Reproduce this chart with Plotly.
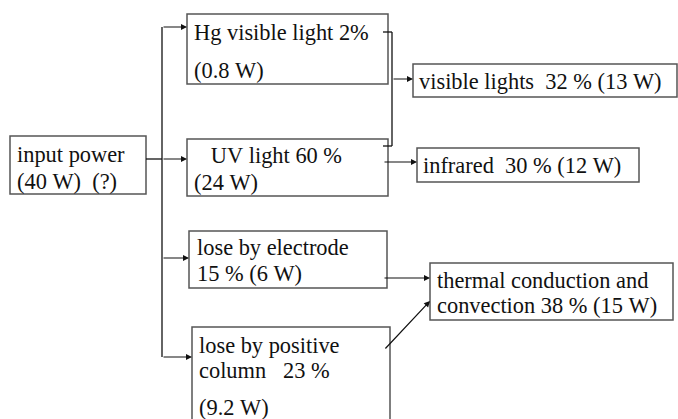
import plotly.graph_objects as go

# ---- data ----
node_names = ["input power", "Hg visible light", "UV light", "lose by electrode",
              "lose by positive column", "visible lights", "infrared",
              "thermal conduction and convection"]
node_pct = [None, 2, 60, 15, 23, 32, 30, 38]
node_watts = [40, 0.8, 24, 6, 9.2, 13, 12, 15]

# text lines of each node (built from the data)
node_lines = [
    ["input power", f"({node_watts[0]:g} W)  (?)"],
    [f"Hg visible light {node_pct[1]}%", f"({node_watts[1]:g} W)"],
    [f"   UV light {node_pct[2]} %", f"({node_watts[2]:g} W)"],
    ["lose by electrode", f"{node_pct[3]} % ({node_watts[3]:g} W)"],
    ["lose by positive", f"column   {node_pct[4]} %", f"({node_watts[4]:g} W)"],
    [f"visible lights  {node_pct[5]} % ({node_watts[5]:g} W)"],
    [f"infrared  {node_pct[6]} % ({node_watts[6]:g} W)"],
    ["thermal conduction and", f"convection {node_pct[7]} % ({node_watts[7]:g} W)"],
]

# ---- layout geometry (pixels) ----
boxes = [(10, 136, 146, 194), (187, 14, 388, 84), (187, 139, 388, 196),
         (189, 231, 387, 288), (192, 327, 390, 425), (413, 64, 677, 97),
         (417, 148, 639, 182), (430, 263, 673, 320)]
text_pos = [
    [(15, 154), (15, 181)],
    [(192, 32), (192, 70)],
    [(192, 155), (192, 182)],
    [(195, 247), (195, 273)],
    [(197, 345), (197, 370), (197, 407)],
    [(417, 81)],
    [(421, 165)],
    [(435, 280), (435, 305)],
]

FONT = dict(family="Liberation Serif, Times New Roman, serif", size=22.4, color="#111111")
BOX_COLOR = "#555555"
LINE_COLOR = "#111111"

fig = go.Figure()
shapes = []
for (x0, y0, x1, y1) in boxes:
    shapes.append(dict(type="rect", x0=x0, y0=y0, x1=x1, y1=y1, xref="x", yref="y",
                       line=dict(color=BOX_COLOR, width=1.5), fillcolor="rgba(0,0,0,0)"))

# plain connector lines
plain_lines = [
    (162, 27, 162, 357),     # trunk
    (146, 159, 162, 159),    # input to trunk
    (383, 32, 392, 32),      # bracket top
    (392, 32, 392, 146),     # bracket vertical
    (383, 146, 392, 146),    # bracket bottom
]
for (x0, y0, x1, y1) in plain_lines:
    shapes.append(dict(type="line", x0=x0, y0=y0, x1=x1, y1=y1, xref="x", yref="y",
                       line=dict(color=LINE_COLOR, width=1.3)))

annotations = []
arrows = [
    (162, 27, 187, 27),
    (162, 159, 187, 159),
    (162, 258, 189, 258),
    (162, 357, 192, 357),
    (392, 79, 413, 79),
    (383, 162, 417, 162),
    (383, 278, 430, 278),
    (384, 350, 430, 301),
]
for (tx, ty, hx, hy) in arrows:
    annotations.append(dict(x=hx, y=hy, ax=tx, ay=ty, xref="x", yref="y",
                            axref="x", ayref="y", text="", showarrow=True,
                            arrowhead=2, arrowsize=1.0, arrowwidth=1.2,
                            arrowcolor=LINE_COLOR, standoff=0, startstandoff=0))

for lines, poss in zip(node_lines, text_pos):
    for line, (x, y) in zip(lines, poss):
        annotations.append(dict(x=x, y=y, xref="x", yref="y", text=line.replace(" ", "&nbsp;"),
                                showarrow=False, xanchor="left", yanchor="middle",
                                font=FONT, align="left"))

fig.update_layout(
    width=678, height=419,
    margin=dict(l=0, r=0, t=0, b=0),
    paper_bgcolor="white", plot_bgcolor="white",
    xaxis=dict(range=[0, 678], visible=False, fixedrange=True),
    yaxis=dict(range=[419, 0], visible=False, fixedrange=True),
    shapes=shapes, annotations=annotations, showlegend=False,
)
fig.write_html("out.html", config={"displayModeBar": False},
               post_script="document.body.style.margin='0';document.body.style.padding='0';")
